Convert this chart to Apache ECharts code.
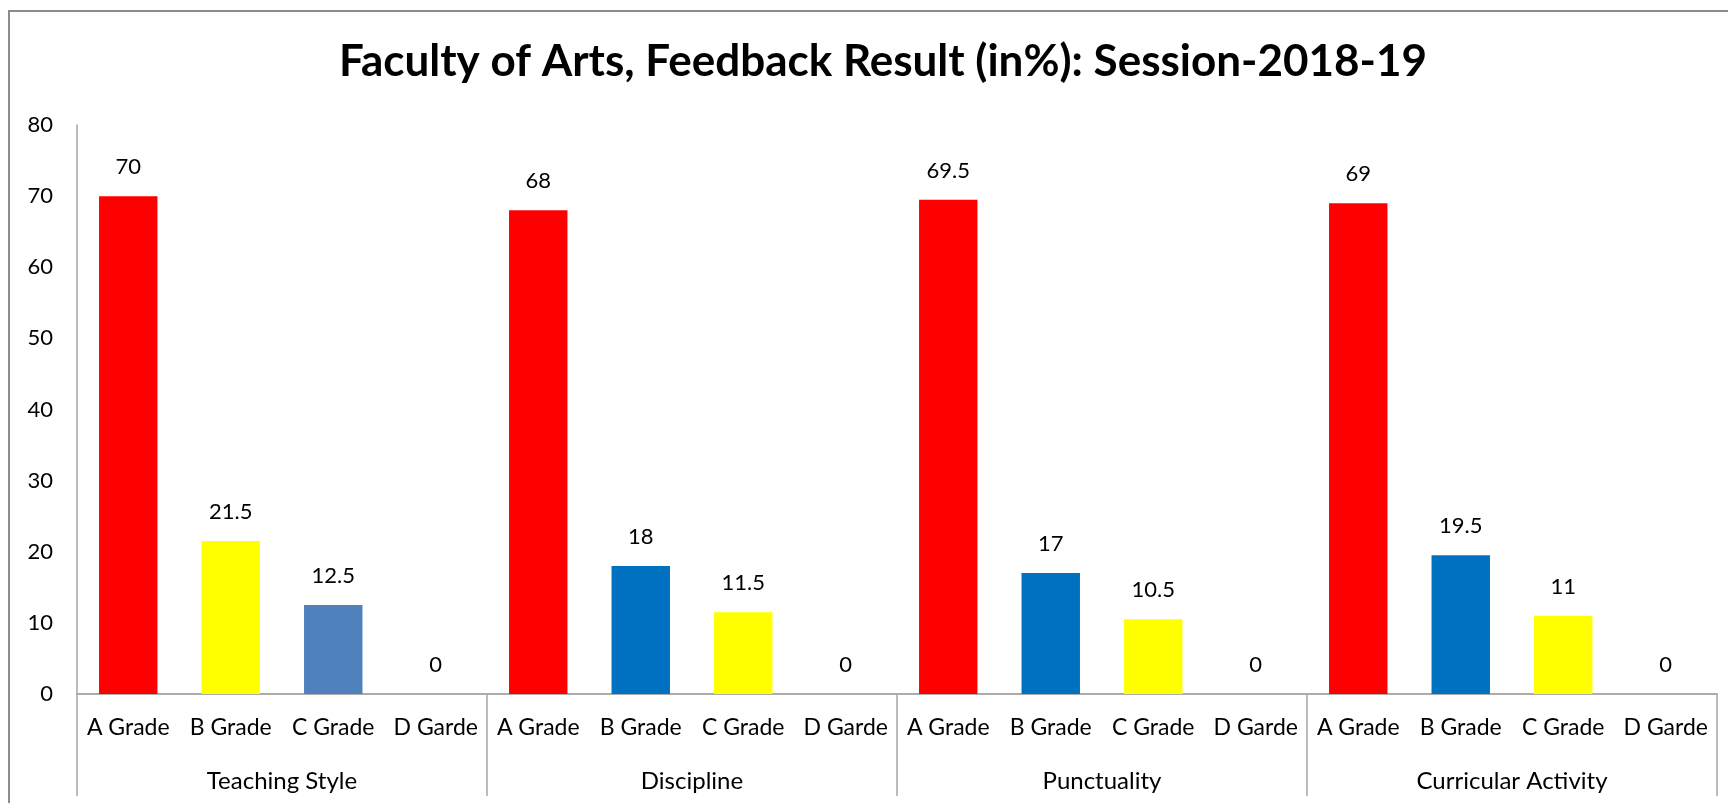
<!DOCTYPE html>
<html>
<head>
<meta charset="utf-8">
<style>
  html, body { margin: 0; padding: 0; background: #fff; }
  #chart { width: 1728px; height: 803px; }
</style>
<script src="https://cdn.jsdelivr.net/npm/echarts@6/dist/echarts.min.js"></script>
</head>
<body>
<div id="chart"></div>
<script>
const groups = ["Teaching Style", "Discipline", "Punctuality", "Curricular Activity"];
const grades = ["A Grade", "B Grade", "C Grade", "D Garde"];

const teachingStyle = [70, 21.5, 12.5, 0];
const discipline = [68, 18, 11.5, 0];
const punctuality = [69.5, 17, 10.5, 0];
const curricular = [69, 19.5, 11, 0];

const teachingColors = ["#FF0000", "#FFFF00", "#4F81BD", "#0070C0"];
const otherColors = ["#FF0000", "#0070C0", "#FFFF00", "#0070C0"];

const yTicks = [0, 10, 20, 30, 40, 50, 60, 70, 80];

const chart = echarts.init(document.getElementById("chart"));

const groupValues = [teachingStyle, discipline, punctuality, curricular];
const groupColors = [teachingColors, otherColors, otherColors, otherColors];

const categories = [];
const barData = [];
groupValues.forEach((vals, g) => {
    vals.forEach((v, i) => {
        categories.push(grades[i]);
        barData.push({ value: v, itemStyle: { color: groupColors[g][i] } });
    });
});

const axisGray = "#A6A6A6";
const font = "Lato";

const option = {
    backgroundColor: "#fff",
    animation: false,
    title: {
        text: "Faculty of Arts, Feedback Result (in%): Session-2018-19",
        left: 878,
        top: 35,
        textAlign: "center",
        textStyle: {
            fontFamily: font,
            fontWeight: "bold",
            fontSize: 44,
            color: "#000"
        }
    },
    graphic: [
        {
            type: "rect",
            shape: { x: 9, y: 11, width: 1740, height: 820 },
            style: { fill: null, stroke: "#8C8C8C", lineWidth: 2 },
            silent: true
        }
    ],
    grid: {
        left: 77,
        right: 11,
        top: 125,
        bottom: 109
    },
    xAxis: [
        {
            type: "category",
            data: categories,
            position: "bottom",
            axisLine: { lineStyle: { color: axisGray, width: 1.5 } },
            axisTick: { show: false },
            axisLabel: {
                interval: 0,
                margin: 22,
                fontFamily: font,
                fontSize: 23,
                color: "#000"
            }
        },
        {
            type: "category",
            data: groups,
            position: "bottom",
            axisLine: { lineStyle: { color: axisGray, width: 1.5 } },
            axisTick: {
                show: true,
                length: 102,
                lineStyle: { color: axisGray, width: 1.5 }
            },
            axisLabel: {
                interval: 0,
                margin: 75,
                fontFamily: font,
                fontSize: 24,
                color: "#000"
            }
        }
    ],
    yAxis: {
        type: "value",
        min: yTicks[0],
        max: yTicks[yTicks.length - 1],
        interval: yTicks[1] - yTicks[0],
        axisLine: { show: true, lineStyle: { color: axisGray, width: 1.5 } },
        axisTick: { show: false },
        splitLine: { show: false },
        axisLabel: {
            margin: 24,
            fontFamily: font,
            fontSize: 22,
            color: "#000"
        }
    },
    series: [
        {
            type: "bar",
            xAxisIndex: 0,
            data: barData,
            barCategoryGap: "43%",
            label: {
                show: true,
                position: "top",
                distance: 18,
                fontFamily: font,
                fontSize: 22,
                color: "#000"
            }
        }
    ]
};

chart.setOption(option);
window.addEventListener("resize", () => chart.resize());
</script>
</body>
</html>
